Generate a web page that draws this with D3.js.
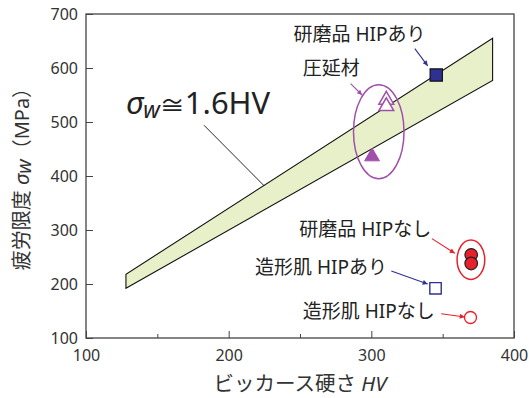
<!DOCTYPE html>
<html><head><meta charset="utf-8">
<script src="https://cdn.jsdelivr.net/npm/d3@7"></script>
<style>
html,body{margin:0;padding:0;background:#fff;}
svg{display:block;font-family:"Noto Sans","Noto Sans CJK JP",sans-serif;}
</style></head>
<body>
<svg id="c" width="529" height="398"></svg>
<script>
// ---- data ----
const xDomain = [100, 400];
const yDomain = [100, 700];
const xTicks = [100, 200, 300, 400];
const xMinorTicks = [150, 250, 350];
const yTicks = [100, 200, 300, 400, 500, 600, 700];
// band sigma_w ≈ 1.6HV (1.5HV .. 1.7HV)
const bandHV = [128, 385];
const bandLow = [192, 577];
const bandHigh = [218, 655];
// series
const polishedHIP = [[345.5, 587]];            // 研磨品 HIPあり (filled square)
const asBuiltHIP = [[345, 192]];               // 造形肌 HIPあり (open square)
const polishedNoHIP = [[370, 254], [370, 238]]; // 研磨品 HIPなし (filled circles)
const asBuiltNoHIP = [[369.5, 138]];           // 造形肌 HIPなし (open circle)
const rolledOpen = [[310.5, 541], [310.5, 529]];// 圧延材 (open triangles)
const rolledFilled = [[300.5, 436]];           // 圧延材 (filled triangle)
// grouping ellipses: [cx, cy, rx(HV), ry(MPa)]
const rolledEllipse = [305.2, 482, 17.7, 87];
const polishedNoHIPEllipse = [369.8, 245, 9.7, 36.5];
// labels: text, x, y (data units), anchor, arrow [x1,y1,x2,y2], color
const labels = [
  {t:"研磨品 HIPあり", x:245.5, y:650, a:"start", arr:[330.5,636,339.5,604], c:"#2e3192"},
  {t:"圧延材", x:252, y:587, a:"start", arr:[285.5,571,293.5,550], c:"#a050aa"},
  {t:"研磨品 HIPなし", x:249.5, y:289, a:"start", arr:[342.5,284,358.5,257], c:"#e8202a"},
  {t:"造形肌 HIPあり", x:311, y:219, a:"end", arr:[314,224,339.5,200], c:"#2e3192"},
  {t:"造形肌 HIPなし", x:252, y:137, a:"start", arr:[349,145,365.5,139], c:"#e8202a"}
];
const formulaPos = [128, 515];
const formulaLeader = [182.7, 494, 225, 381.5];

// ---- chart ----
const svg = d3.select("#c");
const x = d3.scaleLinear(xDomain, [86, 514]);
const y = d3.scaleLinear(yDomain, [338, 14]);
const axisColor = "#444", textColor = "#333";
const FONT = "'Noto Sans','Noto Sans CJK JP',sans-serif";

// band
const bandPts = [[bandHV[0], bandLow[0]], [bandHV[0], bandHigh[0]], [bandHV[1], bandHigh[1]], [bandHV[1], bandLow[1]]];
svg.append("path")
  .attr("d", d3.line().x(d => x(d[0])).y(d => y(d[1]))(bandPts) + "Z")
  .attr("fill", "#e7f0c8").attr("stroke", "#111").attr("stroke-width", 1.1);

// frame
svg.append("rect").attr("x", x(100)).attr("y", y(700))
  .attr("width", x(400) - x(100)).attr("height", y(100) - y(700))
  .attr("fill", "none").attr("stroke", axisColor).attr("stroke-width", 1.3);

// axes
const gx = svg.append("g").attr("transform", `translate(0,${y(100)})`)
  .call(d3.axisBottom(x).tickValues(xTicks).tickSizeInner(-7).tickSizeOuter(0).tickPadding(12).tickFormat(d3.format("d")));
const gxm = svg.append("g").attr("transform", `translate(0,${y(100)})`)
  .call(d3.axisBottom(x).tickValues(xMinorTicks).tickSizeInner(-4).tickSizeOuter(0).tickFormat(""));
const gy = svg.append("g").attr("transform", `translate(${x(100)},0)`)
  .call(d3.axisLeft(y).tickValues(yTicks).tickSizeInner(-7).tickSizeOuter(0).tickPadding(8).tickFormat(d3.format("d")));
[gx, gxm, gy].forEach(g => {
  g.select(".domain").remove();
  g.selectAll("line").attr("stroke", axisColor).attr("stroke-width", 1);
  g.selectAll("text").attr("fill", textColor).attr("font-size", 16).attr("font-family", FONT);
});

// axis titles
const xt = svg.append("text").attr("x", 300).attr("y", 391).attr("text-anchor", "middle")
  .attr("font-size", 20.5).attr("fill", textColor);
xt.append("tspan").text("ビッカース硬さ ");
xt.append("tspan").attr("font-style", "italic").text("HV");

const yt = svg.append("text").attr("transform", "translate(29,174) rotate(-90)")
  .attr("text-anchor", "middle").attr("font-size", 20).attr("fill", textColor);
yt.append("tspan").text("疲労限度 ");
yt.append("tspan").attr("font-style", "italic").text("σ");
yt.append("tspan").attr("font-style", "italic").attr("dy", 2).text("w");
yt.append("tspan").attr("dy", -2).text("（MPa）");

// formula label + leader
svg.append("line")
  .attr("x1", x(formulaLeader[0])).attr("y1", y(formulaLeader[1]))
  .attr("x2", x(formulaLeader[2])).attr("y2", y(formulaLeader[3]))
  .attr("stroke", "#111").attr("stroke-width", 0.9);
const ft = svg.append("text").attr("x", x(formulaPos[0])).attr("y", y(formulaPos[1]))
  .attr("font-size", 31).attr("fill", "#222");
ft.append("tspan").attr("font-style", "italic").text("σ");
ft.append("tspan").attr("font-style", "italic").attr("font-size", 23).attr("dy", 4).text("w");
ft.append("tspan").attr("dy", -4).attr("font-size", 25).text("≅");
ft.append("tspan").text("1.6HV");

// ellipses
function ell(e, color) {
  svg.append("ellipse")
    .attr("cx", x(e[0])).attr("cy", y(e[1]))
    .attr("rx", x(e[0] + e[2]) - x(e[0])).attr("ry", y(e[1]) - y(e[1] + e[3]))
    .attr("fill", "none").attr("stroke", color).attr("stroke-width", 1.5);
}
ell(rolledEllipse, "#a050aa");
ell(polishedNoHIPEllipse, "#e8202a");

// markers
const sq = d3.symbol().type(d3.symbolSquare).size(150);
const tri = d3.symbol().type(d3.symbolTriangle).size(95);
svg.selectAll(".ps").data(polishedHIP).join("path")
  .attr("d", sq).attr("transform", d => `translate(${x(d[0])},${y(d[1])})`)
  .attr("fill", "#2e3192").attr("stroke", "#111").attr("stroke-width", 1.2);
svg.selectAll(".as").data(asBuiltHIP).join("path")
  .attr("d", d3.symbol().type(d3.symbolSquare).size(130)).attr("transform", d => `translate(${x(d[0])},${y(d[1])})`)
  .attr("fill", "#fff").attr("stroke", "#2e3192").attr("stroke-width", 1.4);
svg.selectAll(".pc").data(polishedNoHIP).join("circle")
  .attr("cx", d => x(d[0])).attr("cy", d => y(d[1])).attr("r", 6.3)
  .attr("fill", "#e8202a").attr("stroke", "#222").attr("stroke-width", 1.2);
svg.selectAll(".ac").data(asBuiltNoHIP).join("circle")
  .attr("cx", d => x(d[0])).attr("cy", d => y(d[1])).attr("r", 6)
  .attr("fill", "#fff").attr("stroke", "#e8202a").attr("stroke-width", 1.3);
svg.selectAll(".ro").data(rolledOpen).join("path")
  .attr("d", tri).attr("transform", d => `translate(${x(d[0])},${y(d[1])})`)
  .attr("fill", "#fff").attr("stroke", "#a050aa").attr("stroke-width", 1.5);
svg.selectAll(".rf").data(rolledFilled).join("path")
  .attr("d", tri).attr("transform", d => `translate(${x(d[0])},${y(d[1])})`)
  .attr("fill", "#a050aa").attr("stroke", "#a050aa").attr("stroke-width", 1);

// arrow markers
const defs = svg.append("defs");
labels.forEach((l, i) => {
  defs.append("marker").attr("id", "ah" + i).attr("viewBox", "0 0 10 10")
    .attr("refX", 10).attr("refY", 5).attr("markerWidth", 7).attr("markerHeight", 5)
    .attr("markerUnits", "userSpaceOnUse").attr("orient", "auto")
    .append("path").attr("d", "M0,0L10,5L0,10Z").attr("fill", l.c);
});
labels.forEach((l, i) => {
  svg.append("text").attr("x", x(l.x)).attr("y", y(l.y)).attr("text-anchor", l.a)
    .attr("font-size", 19).attr("fill", "#222").text(l.t);
  svg.append("line")
    .attr("x1", x(l.arr[0])).attr("y1", y(l.arr[1]))
    .attr("x2", x(l.arr[2])).attr("y2", y(l.arr[3]))
    .attr("stroke", l.c).attr("stroke-width", 1.1).attr("marker-end", `url(#ah${i})`);
});
</script>
</body></html>
